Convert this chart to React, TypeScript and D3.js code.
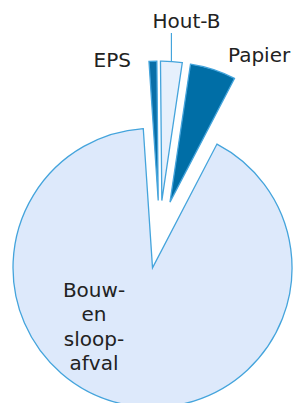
import React from "react";
import * as d3 from "d3";

const categories = ["EPS", "Hout-B", "Papier", "Bouw- en sloop-afval"];
const values = [0.9, 2.5, 5.3, 91.3];
const fills = ["#0a6fa8", "#e6f0fc", "#006ea6", "#dde9fb"];

const W = 295;
const H = 403;
const CX = 159.5;
const CY = 234.5;
const R = 139.5;
const EXPLODE = 34;
const START = (-3.8 * Math.PI) / 180;
const STROKE = "#44a4dc";
const FONT = "'DejaVu Sans', Verdana, sans-serif";

export default function App() {
  const pie = d3
    .pie<number>()
    .sort(null)
    .value((d) => d)
    .startAngle(START)
    .endAngle(START + 2 * Math.PI);
  const arcs = pie(values);
  const arcGen = d3.arc<d3.PieArcDatum<number>>().innerRadius(0).outerRadius(R);

  const offset = (a: d3.PieArcDatum<number>) => {
    const mid = (a.startAngle + a.endAngle) / 2;
    return [Math.sin(mid) * EXPLODE, -Math.cos(mid) * EXPLODE];
  };

  const hout = arcs[1];
  const houtMid = (hout.startAngle + hout.endAngle) / 2;
  const [hox, hoy] = offset(hout);
  const leaderX = CX + hox + Math.sin(houtMid) * R;
  const leaderY = CY + hoy - Math.cos(houtMid) * R;

  const bouwLines = ["Bouw-", "en", "sloop-", "afval"];

  return (
    <svg
      width={W}
      height={H}
      style={{ position: "absolute", left: 0, top: 0, background: "#fff" }}
    >
      <g transform={`translate(${CX},${CY})`}>
        {arcs.map((a, i) => {
          const [ox, oy] = offset(a);
          return (
            <path
              key={categories[i]}
              d={arcGen(a) || ""}
              transform={`translate(${ox},${oy})`}
              fill={fills[i]}
              stroke={STROKE}
              strokeWidth={1.3}
              strokeLinejoin="miter"
            />
          );
        })}
      </g>
      <line x1={leaderX} y1={leaderY} x2={leaderX} y2={33} stroke={STROKE} strokeWidth={1.2} />
      <g fontFamily={FONT} fontSize={20} fill="#222">
        <text x={93.5} y={66.5}>{categories[0]}</text>
        <text x={152.5} y={28}>{categories[1]}</text>
        <text x={228} y={62}>{categories[2]}</text>
        {bouwLines.map((t, i) => (
          <text key={t} x={94} y={297 + i * 24.4} textAnchor="middle">
            {t}
          </text>
        ))}
      </g>
    </svg>
  );
}
